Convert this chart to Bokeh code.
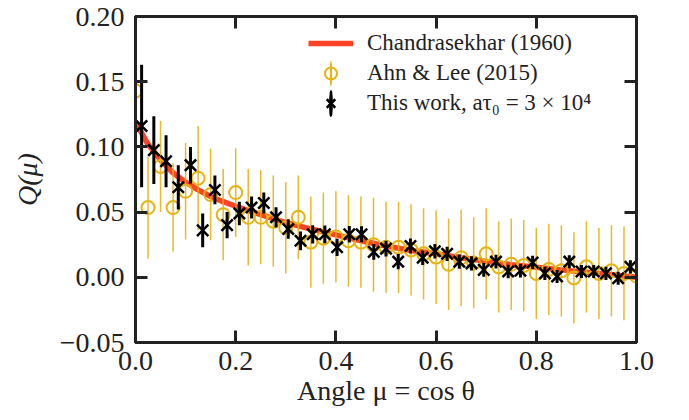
import numpy as np
from bokeh.plotting import figure
from bokeh.models import (Range1d, FixedTicker, LinearAxis, CustomJSTickFormatter,
                          Legend, LegendItem, ColumnDataSource)
from bokeh.embed import file_html
from bokeh.resources import INLINE

# ---------------- data ----------------
x_ticks = [0.0, 0.2, 0.4, 0.6, 0.8, 1.0]
x_tick_labels = ["0.0", "0.2", "0.4", "0.6", "0.8", "1.0"]
y_ticks = [-0.05, 0.0, 0.05, 0.1, 0.15, 0.2]
y_tick_labels = ["\u22120.05", "0.00", "0.05", "0.10", "0.15", "0.20"]

# Chandrasekhar (1960)
chandra_mu = [0.0, 0.025, 0.05, 0.075, 0.1, 0.125, 0.15, 0.175, 0.2, 0.25, 0.3, 0.35,
              0.4, 0.45, 0.5, 0.55, 0.6, 0.65, 0.7, 0.75, 0.8, 0.85, 0.9, 0.95, 1.0]
chandra_q = [0.119, 0.102, 0.090, 0.080, 0.073, 0.067, 0.062, 0.058, 0.0545, 0.048, 0.042, 0.037,
             0.0325, 0.028, 0.024, 0.0205, 0.018, 0.015, 0.0122, 0.0097, 0.0077, 0.0057, 0.0038, 0.0019, 0.0]

# Ahn & Lee (2015)
ahn_mu = [0.0, 0.025, 0.05, 0.075, 0.1, 0.125, 0.15, 0.175, 0.2, 0.225, 0.25, 0.275, 0.3, 0.325,
          0.35, 0.375, 0.4, 0.425, 0.45, 0.475, 0.5, 0.525, 0.55, 0.575, 0.6, 0.625, 0.65, 0.675,
          0.7, 0.725, 0.75, 0.775, 0.8, 0.825, 0.85, 0.875, 0.9, 0.925, 0.95, 0.975, 1.0]
ahn_q = [0.143, 0.0535, 0.085, 0.0535, 0.066, 0.076, 0.0635, 0.048, 0.065, 0.046, 0.046, 0.043,
         0.038, 0.046, 0.027, 0.030, 0.031, 0.028, 0.027, 0.025, 0.023, 0.023, 0.021, 0.018,
         0.0155, 0.010, 0.015, 0.011, 0.018, 0.008, 0.010, 0.009, 0.003, 0.006, 0.005, -0.0005,
         0.008, 0.003, 0.005, 0.003, 0.001]
ahn_err = [0.040, 0.039, 0.035, 0.034, 0.037, 0.040, 0.035, 0.035, 0.034, 0.037, 0.036, 0.035,
           0.035, 0.032, 0.035, 0.035, 0.035, 0.035, 0.035, 0.036, 0.035, 0.035, 0.035, 0.035,
           0.036, 0.035, 0.037, 0.035, 0.035, 0.035, 0.035, 0.035, 0.035, 0.035, 0.035, 0.035,
           0.035, 0.035, 0.035, 0.036, 0.035]

# This work, a tau_0 = 3e4
this_mu = [0.0122, 0.0366, 0.0610, 0.0854, 0.1098, 0.1341, 0.1585, 0.1829, 0.2073, 0.2317,
           0.2561, 0.2805, 0.3049, 0.3293, 0.3537, 0.3780, 0.4024, 0.4268, 0.4512, 0.4756,
           0.5000, 0.5244, 0.5488, 0.5732, 0.5976, 0.6220, 0.6463, 0.6707, 0.6951, 0.7195,
           0.7439, 0.7683, 0.7927, 0.8171, 0.8415, 0.8659, 0.8902, 0.9146, 0.9390, 0.9634, 0.9878]
this_q = [0.116, 0.0975, 0.089, 0.069, 0.086, 0.036, 0.067, 0.040, 0.049, 0.0535,
          0.057, 0.046, 0.037, 0.028, 0.033, 0.033, 0.023, 0.033, 0.033, 0.0195,
          0.022, 0.012, 0.024, 0.015, 0.020, 0.018, 0.012, 0.0107, 0.0057, 0.012,
          0.0044, 0.005, 0.0114, 0.003, 0.0006, 0.012, 0.0044, 0.0044, 0.003, -0.0007, 0.008]
this_err = [0.047, 0.026, 0.020, 0.017, 0.014, 0.013, 0.011, 0.010, 0.009, 0.0085,
            0.008, 0.0078, 0.0075, 0.0072, 0.007, 0.0068, 0.0066, 0.0064, 0.0062, 0.006,
            0.006, 0.0058, 0.0058, 0.0056, 0.0056, 0.0055, 0.0054, 0.0054, 0.0053, 0.0053,
            0.0052, 0.0052, 0.0051, 0.0051, 0.005, 0.005, 0.005, 0.005, 0.005, 0.005, 0.005]

# ---------------- styles ----------------
RED = "#fd4326"
YEL = "#e6b412"
INK = "#222222"
FONT = "Liberation Serif"

ahn_src = ColumnDataSource(dict(
    mu=ahn_mu, q=ahn_q,
    lo=[q - e for q, e in zip(ahn_q, ahn_err)],
    hi=[q + e for q, e in zip(ahn_q, ahn_err)]))
this_src = ColumnDataSource(dict(
    mu=this_mu, q=this_q,
    lo=[q - e for q, e in zip(this_q, this_err)],
    hi=[q + e for q, e in zip(this_q, this_err)]))
legend_only = ColumnDataSource(dict(x=[np.nan], y=[np.nan]))

p = figure(width=689, height=420, x_range=Range1d(0, 1), y_range=Range1d(-0.05, 0.2),
           output_backend="svg", toolbar_location=None,
           min_border_left=135, min_border_right=53, min_border_top=16, min_border_bottom=78)
p.xgrid.grid_line_color = None
p.ygrid.grid_line_color = None
p.outline_line_color = INK
p.outline_line_width = 3
p.outline_line_alpha = 1.0
p.background_fill_color = "white"
p.border_fill_color = "white"

red_r = p.line(chandra_mu, chandra_q, line_color=RED, line_width=5.5)

p.segment(x0="mu", y0="lo", x1="mu", y1="hi", source=ahn_src, line_color=YEL, line_width=1.5, line_alpha=0.9)
ahn_r = p.scatter(x="mu", y="q", source=ahn_src, marker="circle", size=13,
                  fill_color=None, line_color=YEL, line_width=2)

p.segment(x0="mu", y0="lo", x1="mu", y1="hi", source=this_src, line_color="black", line_width=3)
this_r = p.scatter(x="mu", y="q", source=this_src, marker="x", size=16,
                   line_color="black", line_width=2.5)

# legend-only vertical bars (error-bar glyph in legend)
ahn_bar = p.ellipse(x="x", y="y", width=0.5, height=18, width_units="screen", height_units="screen",
                    fill_color=None, line_color=YEL, line_width=1.5, source=legend_only)
this_bar = p.ellipse(x="x", y="y", width=0.5, height=18, width_units="screen", height_units="screen",
                     fill_color=None, line_color="black", line_width=3, source=legend_only)

# axes
xa = p.xaxis[0]
ya = p.yaxis[0]
xa.ticker = FixedTicker(ticks=x_ticks)
ya.ticker = FixedTicker(ticks=y_ticks)
xa.major_label_overrides = dict(zip(x_ticks, x_tick_labels))
ya.major_label_overrides = dict(zip(y_ticks, y_tick_labels))
for ax in (xa, ya):
    ax.axis_line_color = INK
    ax.axis_line_width = 3
    ax.major_tick_in = 12
    ax.major_tick_out = 0
    ax.major_tick_line_width = 3
    ax.major_tick_line_color = INK
    ax.minor_tick_line_color = None
    ax.major_label_text_font = FONT
    ax.major_label_text_font_size = "28px"
    ax.major_label_text_color = INK
    ax.axis_label_text_font = FONT
    ax.axis_label_text_font_size = "28px"
    ax.axis_label_text_color = INK
xa.axis_label = "Angle \u03bc = cos \u03b8"
xa.axis_label_text_font_style = "normal"
xa.major_label_standoff = 9
xa.axis_label_standoff = 2
ya.axis_label = "Q(\u03bc)"
ya.axis_label_text_font_style = "italic"
ya.major_label_standoff = 11
ya.axis_label_standoff = 14

for place, ticks in (("right", y_ticks), ("above", x_ticks)):
    ax = LinearAxis(ticker=FixedTicker(ticks=ticks),
                    formatter=CustomJSTickFormatter(code="return ''"),
                    major_label_text_font_size="1px", major_label_standoff=0,
                    axis_line_color=INK, axis_line_width=3,
                    major_tick_in=12, major_tick_out=0,
                    major_tick_line_width=3, major_tick_line_color=INK,
                    minor_tick_line_color=None)
    p.add_layout(ax, place)

legend = Legend(items=[
    LegendItem(label="Chandrasekhar (1960)", renderers=[red_r]),
    LegendItem(label="Ahn & Lee (2015)", renderers=[ahn_bar, ahn_r]),
    LegendItem(label="This work, a\u03c4\u2080 = 3 \u00d7 10\u2074", renderers=[this_bar, this_r]),
], location=(173, 224))
legend.border_line_color = None
legend.background_fill_alpha = 0
legend.padding = 0
legend.margin = 0
legend.spacing = 0
legend.glyph_width = 45
legend.glyph_height = 30
legend.label_height = 30
legend.label_standoff = 14
legend.label_text_font = FONT
legend.label_text_font_size = "23px"
legend.label_text_color = INK
p.add_layout(legend)

open("out.html", "w").write(file_html(p, INLINE))
